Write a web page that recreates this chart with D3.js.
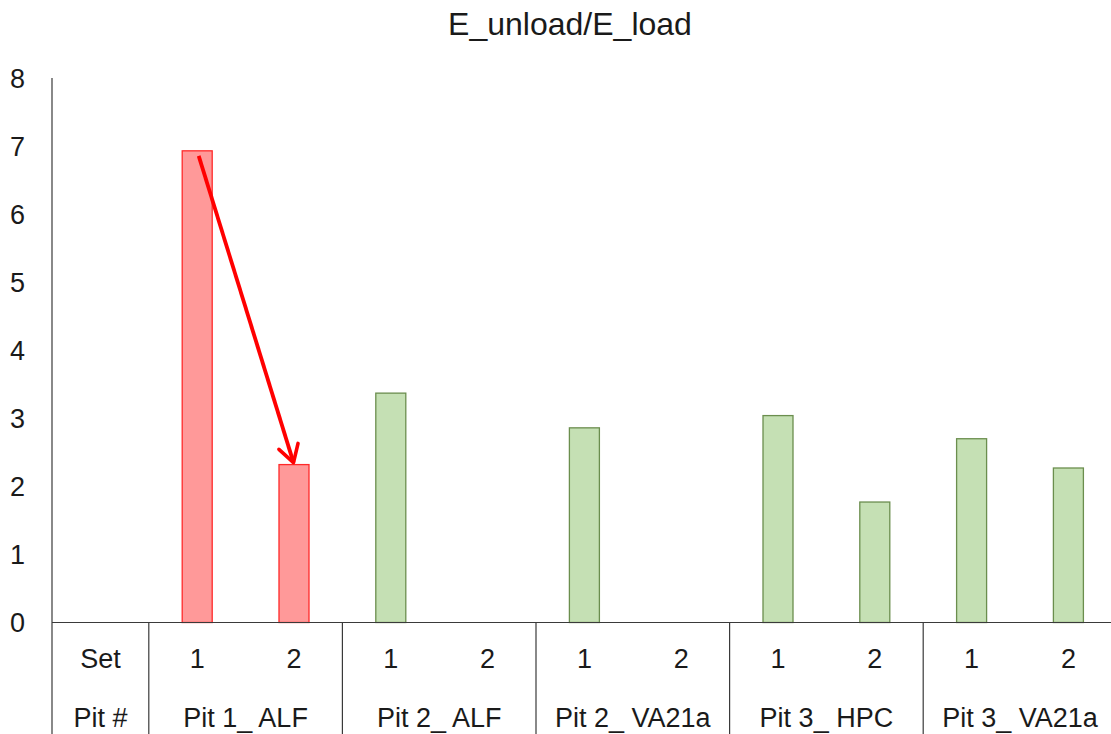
<!DOCTYPE html>
<html>
<head>
<meta charset="utf-8">
<script src="https://cdn.jsdelivr.net/npm/d3@7"></script>
<style>
  html, body { margin: 0; padding: 0; background: #fff; overflow: hidden; }
  svg { display: block; }
  .tick-txt { font-family: "Liberation Sans Narrow", "Liberation Sans", Arial, sans-serif; font-size: 27px; fill: #1a1a1a; }
  .title { font-family: "Liberation Sans", Arial, sans-serif; font-size: 32px; fill: #1a1a1a; }
</style>
</head>
<body>
<svg id="chart" width="1111" height="734"></svg>
<script>
// E_unload / E_load ratio for each pit and test set
const pits = ["Pit 1_ ALF", "Pit 2_ ALF", "Pit 2_ VA21a", "Pit 3_ HPC", "Pit 3_ VA21a"];
const sets = ["1", "2"];
const set1Values = [6.93, 3.37, 2.86, 3.04, 2.70];
const set2Values = [2.32, null, null, 1.77, 2.27];
const highlightedPit = "Pit 1_ ALF";
const yTicks = [0, 1, 2, 3, 4, 5, 6, 7, 8];
const rowLabels = ["Set", "Pit #"];
const titleText = "E_unload/E_load";

const rows = [];
pits.forEach((p, i) => {
  rows.push({ pit: p, set: sets[0], value: set1Values[i] });
  rows.push({ pit: p, set: sets[1], value: set2Values[i] });
});

const svg = d3.select("#chart");
const plotLeft = 52, plotTop = 78, baseline = 622.5, slotW = 96.8;
const slots = ["__label__"].concat(rows.map(d => d.pit + "|" + d.set));

const x = d3.scaleBand().domain(slots).range([plotLeft, plotLeft + slots.length * slotW]).padding(0);
// Each pit spans its two set slots
const pitStart = p => x(p + "|" + sets[0]);
const y = d3.scaleLinear().domain([0, 8]).range([baseline, plotTop]);

const barW = 30;
const lineCol = "#3a3a3a";

// Title
svg.append("text").attr("class", "title")
  .attr("x", 570).attr("y", 35).attr("text-anchor", "middle").text(titleText);

// Y tick labels
svg.append("g").selectAll("text").data(yTicks).join("text")
  .attr("class", "tick-txt")
  .attr("x", 25).attr("y", d => y(d) + 9.5)
  .attr("text-anchor", "end").text(d => d);

// Y axis line
svg.append("line").attr("x1", plotLeft).attr("x2", plotLeft)
  .attr("y1", plotTop).attr("y2", 734).attr("stroke", lineCol).attr("stroke-width", 1.2);

// Bars
const barData = rows.filter(d => d.value != null);
svg.append("g").selectAll("rect").data(barData).join("rect")
  .attr("x", d => x(d.pit + "|" + d.set) + x.bandwidth() / 2 - barW / 2)
  .attr("y", d => y(d.value))
  .attr("width", barW)
  .attr("height", d => baseline - y(d.value))
  .attr("fill", d => d.pit === highlightedPit ? "#ff9999" : "#c5e0b4")
  .attr("stroke", d => d.pit === highlightedPit ? "#ff2a2a" : "#6b8e4e")
  .attr("stroke-width", 1.3);

// Baseline
svg.append("line").attr("x1", plotLeft).attr("x2", 1111)
  .attr("y1", baseline).attr("y2", baseline)
  .attr("stroke", lineCol).attr("stroke-width", 1.2);

// Group separators in the category table
svg.append("g").selectAll("line").data(pits).join("line")
  .attr("x1", d => pitStart(d)).attr("x2", d => pitStart(d))
  .attr("y1", baseline).attr("y2", 734)
  .attr("stroke", lineCol).attr("stroke-width", 1.2);

// Set labels
svg.append("text").attr("class", "tick-txt")
  .attr("x", x("__label__") + x.bandwidth() / 2).attr("y", 668)
  .attr("text-anchor", "middle").text(rowLabels[0]);
svg.append("g").selectAll("text").data(rows).join("text")
  .attr("class", "tick-txt")
  .attr("x", d => x(d.pit + "|" + d.set) + x.bandwidth() / 2)
  .attr("y", 668).attr("text-anchor", "middle").text(d => d.set);

// Pit labels
svg.append("text").attr("class", "tick-txt")
  .attr("x", x("__label__") + x.bandwidth() / 2).attr("y", 727)
  .attr("text-anchor", "middle").text(rowLabels[1]);
svg.append("g").selectAll("text").data(pits).join("text")
  .attr("class", "tick-txt")
  .attr("x", d => pitStart(d) + x.bandwidth())
  .attr("y", 727).attr("text-anchor", "middle").text(d => d);

// Arrow from set 1 to set 2 of the highlighted pit
const defs = svg.append("defs");
defs.append("marker").attr("id", "head")
  .attr("viewBox", "-20 -12 24 24").attr("refX", 0).attr("refY", 0)
  .attr("markerWidth", 24).attr("markerHeight", 24)
  .attr("markerUnits", "userSpaceOnUse").attr("orient", "auto")
  .append("path").attr("d", "M-17,-10 L0,0 L-17,10")
  .attr("fill", "none").attr("stroke", "#ff0000").attr("stroke-width", 3.6)
  .attr("stroke-linecap", "round").attr("stroke-linejoin", "round");

const a = rows[0], b = rows[1];
svg.append("line")
  .attr("x1", x(a.pit + "|" + a.set) + x.bandwidth() / 2 + 1.5)
  .attr("y1", y(a.value) + 5)
  .attr("x2", x(b.pit + "|" + b.set) + x.bandwidth() / 2 - 0.5)
  .attr("y2", y(b.value) - 2)
  .attr("stroke", "#ff0000").attr("stroke-width", 3.8)
  .attr("marker-end", "url(#head)");
</script>
</body>
</html>
